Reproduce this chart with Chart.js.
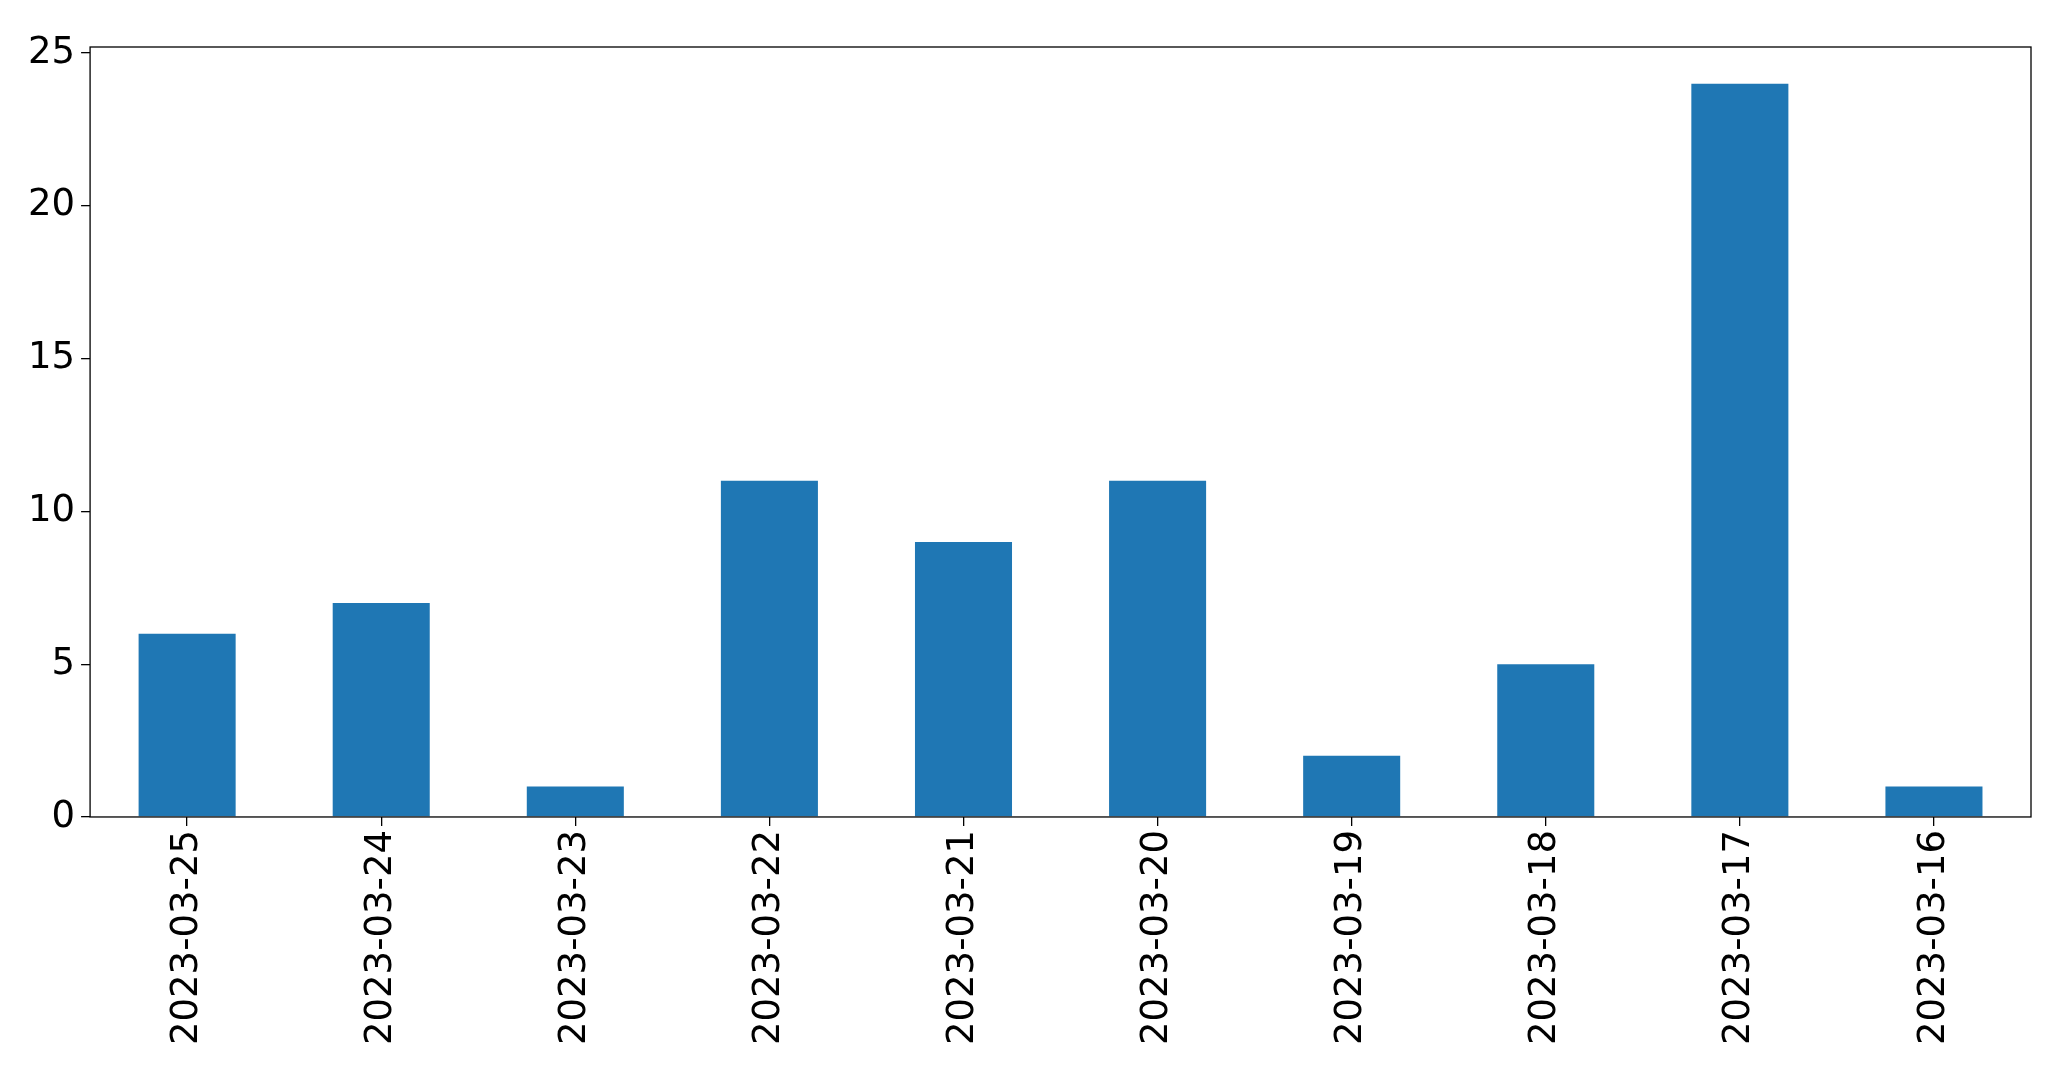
<!DOCTYPE html>
<html>
<head>
<script src="https://cdn.jsdelivr.net/npm/chart.js@4/dist/chart.umd.min.js"></script>
<style>
html, body { margin: 0; padding: 0; background: #fff; }
#wrap { width: 2071px; height: 1069px; }
</style>
</head>
<body>
<div id="wrap"><canvas id="chart"></canvas></div>
<script>
const dates = ['2023-03-25', '2023-03-24', '2023-03-23', '2023-03-22', '2023-03-21', '2023-03-20', '2023-03-19', '2023-03-18', '2023-03-17', '2023-03-16'];
const counts = [6, 7, 1, 11, 9, 11, 2, 5, 24, 1];
const yTicks = [0, 5, 10, 15, 20, 25];

// draw the full axes frame like matplotlib
const frame = {
	id: 'frame',
	afterDraw(chart) {
		const { ctx, chartArea: a } = chart;
		ctx.save();
		ctx.strokeStyle = '#000';
		ctx.lineWidth = 1.3;
		ctx.strokeRect(a.left, a.top, a.right - a.left, a.bottom - a.top);
		ctx.restore();
	},
};

const tickFont = { family: 'DejaVu Sans', size: 37 };

new Chart(document.getElementById('chart'), {
	type: 'bar',
	data: {
		labels: dates,
		datasets: [{
			data: counts,
			backgroundColor: '#1f77b4',
			barPercentage: 0.5,
			categoryPercentage: 1.0,
		}],
	},
	options: {
		responsive: true,
		maintainAspectRatio: false,
		animation: false,
		layout: { padding: { top: 47, right: 40, left: 22, bottom: 20 } },
		plugins: { legend: { display: false }, tooltip: { enabled: false } },
		scales: {
			x: {
				offset: true,
				grid: { offset: false, drawOnChartArea: false, color: '#000', tickLength: 9, lineWidth: 1.3 },
				border: { display: false },
				ticks: { color: '#000', font: tickFont, maxRotation: 90, minRotation: 90, padding: 4 },
			},
			y: {
				min: 0,
				max: 25.2,
				afterBuildTicks(axis) {
					axis.ticks = yTicks.map((v) => ({ value: v }));
				},
				grid: { drawOnChartArea: false, color: '#000', tickLength: 9, lineWidth: 1.3 },
				border: { display: false },
				ticks: { color: '#000', font: tickFont, padding: 6 },
			},
		},
	},
	plugins: [frame],
});
</script>
</body>
</html>
